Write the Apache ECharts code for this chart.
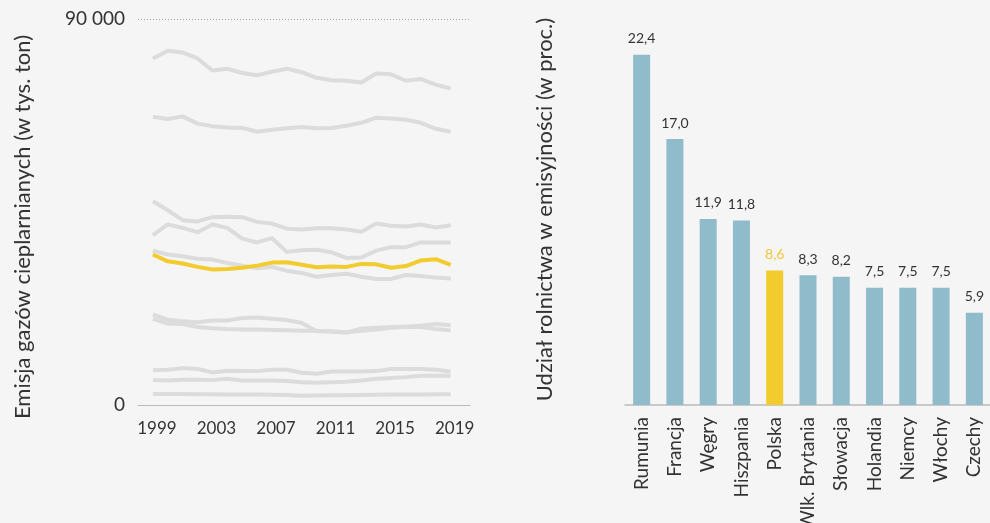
<!DOCTYPE html>
<html>
<head>
<meta charset="utf-8">
<script src="https://cdn.jsdelivr.net/npm/echarts@6/dist/echarts.min.js"></script>
<style>
  html, body { margin: 0; padding: 0; background: #f5f5f5; }
  #chart { width: 990px; height: 523px; }
</style>
</head>
<body>
<div id="chart"></div>
<script>
// emisja w tys. ton, lata 1999-2019
let years = [1999, 2000, 2001, 2002, 2003, 2004, 2005, 2006, 2007, 2008, 2009, 2010, 2011, 2012, 2013, 2014, 2015, 2016, 2017, 2018, 2019];
let yearTicks = [1999, 2003, 2007, 2011, 2015, 2019];

let francja = [80800, 82600, 82200, 80800, 78000, 78400, 77400, 76900, 77700, 78400, 77600, 76300, 75700, 75600, 75200, 77300, 77100, 75600, 76000, 74700, 73800];
let niemcy = [67200, 66700, 67300, 65600, 65000, 64700, 64600, 63700, 64200, 64500, 64800, 64500, 64600, 65100, 65800, 67000, 66800, 66500, 65800, 64400, 63700];
let wlkBrytania = [47500, 45400, 43100, 42800, 43800, 43900, 43800, 42700, 42300, 41100, 40900, 41200, 41200, 40900, 40400, 42300, 41800, 41600, 42100, 41400, 41900];
let hiszpania = [39600, 42100, 41300, 40300, 42100, 41300, 38800, 37900, 38900, 35700, 36100, 36200, 35600, 34300, 34400, 36000, 36800, 36800, 37900, 37900, 37900];
let wlochy = [36000, 35100, 34700, 34100, 33900, 33100, 32500, 31900, 32200, 31300, 30800, 29900, 30300, 30600, 29900, 29400, 29400, 30300, 30100, 29700, 29500];
let polska = [35100, 33500, 33000, 32200, 31600, 31700, 32000, 32500, 33200, 33300, 32700, 32100, 32300, 32200, 32900, 32800, 32000, 32400, 33700, 34000, 32700];
let rumunia = [21100, 19900, 19500, 19300, 19700, 19700, 20300, 20400, 20100, 19800, 19100, 17200, 17200, 16900, 17800, 18000, 18200, 18300, 18500, 18900, 18600];
let holandia = [20100, 19000, 18900, 18200, 17900, 17700, 17600, 17600, 17500, 17400, 17300, 17300, 17100, 16900, 17300, 17600, 18000, 18200, 18200, 17700, 17400];
let czechy = [8100, 8200, 8600, 8400, 7600, 8000, 7900, 7900, 8200, 8200, 7500, 7300, 7800, 7800, 7800, 7900, 8400, 8400, 8400, 8200, 7800];
let wegry = [5800, 5700, 5900, 5900, 5800, 6100, 5700, 5700, 5700, 5600, 5300, 5200, 5300, 5400, 5700, 6100, 6300, 6500, 6800, 6800, 6800];
let slowacja = [2570, 2560, 2570, 2520, 2480, 2450, 2450, 2430, 2400, 2350, 2180, 2200, 2250, 2300, 2320, 2400, 2450, 2450, 2450, 2480, 2520];

// udział rolnictwa w emisyjności (w proc.)
let countries = ['Rumunia', 'Francja', 'Węgry', 'Hiszpania', 'Polska', 'Wlk. Brytania', 'Słowacja', 'Holandia', 'Niemcy', 'Włochy', 'Czechy'];
let shares = [22.4, 17.0, 11.9, 11.8, 8.6, 8.3, 8.2, 7.5, 7.5, 7.5, 5.9];

let grayLines = [francja, niemcy, wlkBrytania, hiszpania, wlochy, rumunia, holandia, czechy, wegry, slowacja];

let fontFamily = 'Lato, "Noto Sans", sans-serif';
let grayColor = '#dcdcdc';
let yellow = '#f2cb2e';
let barColor = '#8fbbcb';
let textColor = '#333';

function pairs(arr) {
    return arr.map(function (v, i) { return [years[i], v]; });
}

let series = [];
grayLines.forEach(function (arr) {
    series.push({
        type: 'line',
        xAxisIndex: 0,
        yAxisIndex: 0,
        data: pairs(arr),
        showSymbol: false,
        silent: true,
        lineStyle: { color: grayColor, width: 4, join: 'round' },
        z: 2
    });
});
series.push({
    name: 'Polska',
    type: 'line',
    xAxisIndex: 0,
    yAxisIndex: 0,
    data: pairs(polska),
    showSymbol: false,
    lineStyle: { color: yellow, width: 4, join: 'round' },
    z: 5
});
series.push({
    type: 'bar',
    xAxisIndex: 1,
    yAxisIndex: 1,
    barWidth: 17,
    data: shares.map(function (v, i) {
        let isPl = countries[i] === 'Polska';
        return {
            value: v,
            itemStyle: { color: isPl ? yellow : barColor },
            label: { color: isPl ? '#f2c63c' : textColor }
        };
    }),
    label: {
        show: true,
        position: 'top',
        distance: 9,
        fontSize: 14,
        fontFamily: fontFamily,
        formatter: function (p) { return p.value.toFixed(1).replace('.', ','); }
    }
});

let option = {
    backgroundColor: '#f5f5f5',
    animation: false,
    grid: [
        { left: 138, right: 520, top: 19, bottom: 118, outerBoundsMode: 'none' },
        { left: 625, right: -1, top: 14, bottom: 118, outerBoundsMode: 'none' }
    ],
    xAxis: [{
        type: 'value',
        gridIndex: 0,
        min: 1998,
        max: 2020.3,
        axisLine: { show: true, lineStyle: { color: '#bbbbbb', width: 1 } },
        axisTick: { show: false },
        splitLine: { show: false },
        axisLabel: {
            customValues: yearTicks,
            color: textColor,
            fontSize: 17,
            fontFamily: fontFamily,
            margin: 15,
            padding: [0, 0, 0, 8],
            formatter: function (v) { return String(v); }
        }
    }, {
        type: 'category',
        gridIndex: 1,
        data: countries,
        axisLine: { lineStyle: { color: '#bbbbbb', width: 1.5 } },
        axisTick: { show: false },
        axisLabel: {
            rotate: 90,
            color: textColor,
            fontSize: 19,
            fontFamily: fontFamily,
            margin: 12,
            interval: 0
        }
    }],
    yAxis: [{
        type: 'value',
        gridIndex: 0,
        min: 0,
        max: 90000,
        interval: 90000,
        name: 'Emisja gazów cieplarnianych (w tys. ton)',
        nameLocation: 'middle',
        nameGap: 104,
        nameTextStyle: { color: textColor, fontSize: 22, fontFamily: fontFamily, padding: [0, 30, 0, 0] },
        axisLine: { show: false },
        axisTick: { show: false },
        splitLine: { show: true, lineStyle: { color: '#aaaaaa', type: [1, 2], width: 1 } },
        axisLabel: {
            color: textColor,
            fontSize: 19,
            fontFamily: fontFamily,
            margin: 13,
            formatter: function (v) { return String(v).replace(/\B(?=(\d{3})+(?!\d))/g, ' '); }
        }
    }, {
        type: 'value',
        gridIndex: 1,
        min: 0,
        max: 25,
        name: 'Udział rolnictwa w emisyjności (w proc.)',
        nameLocation: 'middle',
        nameGap: 69,
        nameTextStyle: { color: textColor, fontSize: 22, fontFamily: fontFamily },
        axisLine: { show: false },
        axisTick: { show: false },
        axisLabel: { show: false },
        splitLine: { show: false }
    }],
    series: series
};

let chart = echarts.init(document.getElementById('chart'));
chart.setOption(option);
</script>
</body>
</html>
